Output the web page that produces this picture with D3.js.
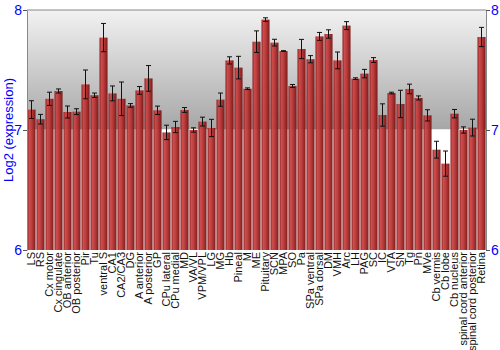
<!DOCTYPE html>
<html>
<head>
<meta charset="utf-8">
<script src="https://cdn.jsdelivr.net/npm/d3@7"></script>
<style>
  body { margin: 0; background: #fff; }
  svg { display: block; font-family: "Liberation Sans", Arial, sans-serif; }
</style>
</head>
<body>
<div id="chart"></div>
<script>
const categories = ["LS", "RS", "Cx motor", "Cx cingulate", "OB anterior", "OB posterior", "Pir", "Tu",
  "ventral S", "CA1", "CA2/CA3", "DG", "A anterior", "A posterior", "GP", "CPu lateral", "CPu medial",
  "MD", "VA/VL", "VPM/VPL", "LG", "MG", "Hb", "Pineal", "M", "ME", "Pituitary", "SCN", "MPA", "SO",
  "Pa", "SPa ventral", "SPa dorsal", "DM", "VMH", "Arc", "LH", "PAG", "SC", "IC", "VTA", "SN", "Tg",
  "Pn", "MVe", "Cb vermis", "Cb lobe", "Cb nucleus", "spinal cord anterior", "spinal cord posterior", "Retina"];

const values = [7.17, 7.09, 7.26, 7.325, 7.15, 7.153, 7.38, 7.29,
  7.77, 7.305, 7.26, 7.205, 7.33, 7.43, 7.164, 6.98, 7.025,
  7.167, 7.0, 7.07, 7.017, 7.253, 7.58, 7.52, 7.344, 7.736, 7.92, 7.728, 7.658, 7.367,
  7.675, 7.59, 7.78, 7.80, 7.58, 7.87, 7.428, 7.47, 7.583, 7.125, 7.308, 7.217, 7.342,
  7.267, 7.122, 6.836, 6.72, 7.136, 7.0, 7.02, 7.775];

const errors = [0.074, 0.04, 0.055, 0.017, 0.05, 0.024, 0.12, 0.018,
  0.118, 0.062, 0.14, 0.015, 0.032, 0.107, 0.035, 0.06, 0.047,
  0.02, 0.018, 0.037, 0.072, 0.055, 0.03, 0.094, 0.007, 0.09, 0.015, 0.028, 0.003, 0.012,
  0.08, 0.03, 0.033, 0.035, 0.07, 0.033, 0.007, 0.035, 0.02, 0.093, 0.007, 0.114, 0.04,
  0.017, 0.047, 0.07, 0.105, 0.035, 0.026, 0.07, 0.08];

const yTicks = [6, 7, 8];

const width = 500, height = 350;
const margin = { top: 10, right: 14, bottom: 100, left: 27 };
const innerW = width - margin.left - margin.right;
const innerH = height - margin.top - margin.bottom;

const data = categories.map((c, i) => ({ name: c, value: values[i], err: errors[i] }));

const svg = d3.select("#chart").append("svg")
  .attr("width", width)
  .attr("height", height);

const defs = svg.append("defs");

const bg = defs.append("linearGradient")
  .attr("id", "bgGrad")
  .attr("x1", 0).attr("y1", 0).attr("x2", 0).attr("y2", 1);
bg.append("stop").attr("offset", "0%").attr("stop-color", "#f2f2f2");
bg.append("stop").attr("offset", "100%").attr("stop-color", "#a6a6a6");

const barGrad = defs.append("linearGradient")
  .attr("id", "barGrad")
  .attr("x1", 0).attr("y1", 0).attr("x2", 1).attr("y2", 0);
barGrad.append("stop").attr("offset", "0%").attr("stop-color", "#8e1c1c");
barGrad.append("stop").attr("offset", "25%").attr("stop-color", "#c94444");
barGrad.append("stop").attr("offset", "55%").attr("stop-color", "#b83232");
barGrad.append("stop").attr("offset", "100%").attr("stop-color", "#741212");

const g = svg.append("g")
  .attr("transform", "translate(" + margin.left + "," + margin.top + ")");

const x = d3.scaleBand()
  .domain(categories)
  .range([0, innerW])
  .paddingInner(0.1)
  .paddingOuter(0.05);

const y = d3.scaleLinear()
  .domain([6, 8])
  .range([innerH, 0]);

// background: gradient on the upper half, white below
g.append("rect")
  .attr("x", 0)
  .attr("y", y(8))
  .attr("width", innerW)
  .attr("height", y(7) - y(8))
  .attr("fill", "url(#bgGrad)");

g.append("line")
  .attr("x1", 0).attr("x2", innerW)
  .attr("y1", y(7)).attr("y2", y(7))
  .attr("stroke", "#ffffff")
  .attr("stroke-width", 1.5);

g.selectAll(".bar")
  .data(data)
  .enter()
  .append("rect")
  .attr("class", "bar")
  .attr("x", d => x(d.name))
  .attr("y", d => y(d.value))
  .attr("width", x.bandwidth())
  .attr("height", d => innerH - y(d.value))
  .attr("fill", "url(#barGrad)")
  .attr("opacity", 0.95);

// error bars
const eb = g.selectAll(".err")
  .data(data)
  .enter()
  .append("g")
  .attr("class", "err")
  .attr("stroke", "#111")
  .attr("stroke-width", 1);

eb.append("line")
  .attr("x1", d => x(d.name) + x.bandwidth() / 2)
  .attr("x2", d => x(d.name) + x.bandwidth() / 2)
  .attr("y1", d => y(d.value + d.err))
  .attr("y2", d => y(d.value - d.err));

eb.append("line")
  .attr("x1", d => x(d.name) + x.bandwidth() / 2 - 2.5)
  .attr("x2", d => x(d.name) + x.bandwidth() / 2 + 2.5)
  .attr("y1", d => y(d.value + d.err))
  .attr("y2", d => y(d.value + d.err));

eb.append("line")
  .attr("x1", d => x(d.name) + x.bandwidth() / 2 - 2.5)
  .attr("x2", d => x(d.name) + x.bandwidth() / 2 + 2.5)
  .attr("y1", d => y(d.value - d.err))
  .attr("y2", d => y(d.value - d.err));

// top border
g.append("line")
  .attr("x1", 0).attr("x2", innerW)
  .attr("y1", 0).attr("y2", 0)
  .attr("stroke", "#888");

// axes
const leftAxis = g.append("g")
  .call(d3.axisLeft(y).tickValues(yTicks).tickFormat(d3.format("d")).tickSize(4).tickSizeOuter(0));
const rightAxis = g.append("g")
  .attr("transform", "translate(" + innerW + ",0)")
  .call(d3.axisRight(y).tickValues(yTicks).tickFormat(d3.format("d")).tickSize(4).tickSizeOuter(0));

[leftAxis, rightAxis].forEach(ax => {
  ax.select(".domain").attr("stroke", "#888");
  ax.selectAll(".tick line").attr("stroke", "#555");
  ax.selectAll(".tick text")
    .attr("fill", "#0000ff")
    .style("font-size", "14px")
    .style("font-family", "'Liberation Sans', Arial, sans-serif");
});
leftAxis.selectAll(".tick text").attr("x", -5);
rightAxis.selectAll(".tick text").attr("x", 5);

// x labels
const xAxis = g.append("g")
  .attr("transform", "translate(0," + innerH + ")")
  .call(d3.axisBottom(x).tickSize(0));
xAxis.select(".domain").remove();
xAxis.selectAll("text")
  .attr("transform", "rotate(-90)")
  .attr("x", -2)
  .attr("y", 0)
  .attr("dy", "0.35em")
  .style("text-anchor", "end")
  .style("font-size", "11px")
  .style("font-family", "'Liberation Sans', Arial, sans-serif")
  .attr("fill", "#111");

svg.append("text")
  .attr("transform", "translate(13," + (margin.top + innerH / 2) + ")rotate(-90)")
  .attr("text-anchor", "middle")
  .attr("fill", "#0000ff")
  .style("font-size", "13px")
  .text("Log2 (expression)");
</script>
</body>
</html>
